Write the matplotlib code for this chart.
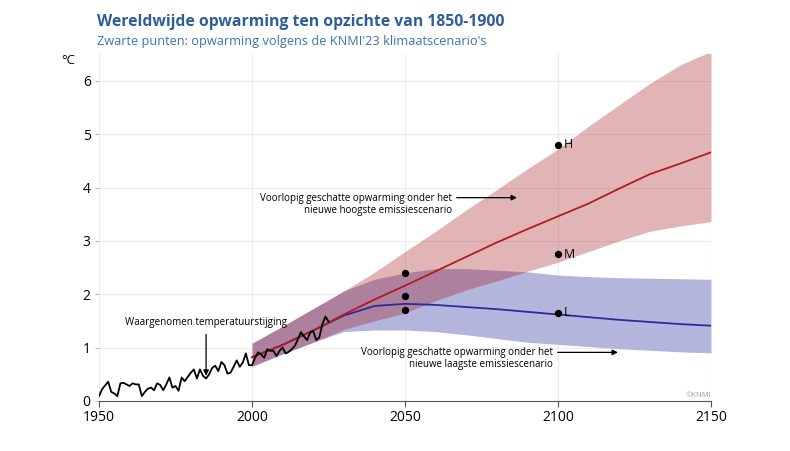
import matplotlib.pyplot as plt
import numpy as np

# observed global warming (deg C vs 1850-1900)
obs_years = np.arange(1950, 2026)
obs_temp = [0.09, 0.22, 0.29, 0.36, 0.17, 0.14, 0.09, 0.33, 0.34, 0.31,
            0.28, 0.33, 0.31, 0.31, 0.09, 0.17, 0.23, 0.25, 0.20, 0.33,
            0.30, 0.20, 0.31, 0.44, 0.25, 0.28, 0.19, 0.44, 0.37, 0.45,
            0.53, 0.59, 0.42, 0.59, 0.47, 0.42, 0.50, 0.62, 0.66, 0.56,
            0.73, 0.67, 0.51, 0.53, 0.64, 0.76, 0.64, 0.72, 0.89, 0.67,
            0.67, 0.81, 0.91, 0.87, 0.81, 0.97, 0.94, 0.94, 0.84, 0.94,
            1.00, 0.89, 0.92, 0.97, 1.03, 1.16, 1.29, 1.21, 1.14, 1.28,
            1.31, 1.14, 1.19, 1.44, 1.58, 1.49]

# scenario projections
proj_years = [2000, 2010, 2020, 2030, 2040, 2050, 2060, 2070, 2080, 2090,
              2100, 2110, 2120, 2130, 2140, 2150]
high_mid = [0.82, 1.05, 1.32, 1.62, 1.90, 2.16, 2.43, 2.70, 2.97, 3.22,
            3.46, 3.70, 3.98, 4.25, 4.45, 4.66]
high_up = [1.08, 1.40, 1.73, 2.06, 2.41, 2.80, 3.18, 3.58, 3.96, 4.35,
           4.72, 5.15, 5.55, 5.95, 6.30, 6.55]
high_lo = [0.65, 0.88, 1.10, 1.34, 1.50, 1.65, 1.88, 2.08, 2.25, 2.43,
           2.60, 2.80, 3.00, 3.18, 3.28, 3.36]
low_mid = [0.82, 1.05, 1.32, 1.60, 1.78, 1.82, 1.80, 1.76, 1.72, 1.67,
           1.62, 1.57, 1.52, 1.48, 1.44, 1.41]
low_up = [1.08, 1.40, 1.73, 2.06, 2.28, 2.40, 2.48, 2.48, 2.45, 2.42,
          2.36, 2.33, 2.31, 2.30, 2.29, 2.28]
low_lo = [0.65, 0.88, 1.10, 1.30, 1.33, 1.33, 1.30, 1.24, 1.17, 1.10,
          1.06, 1.02, 0.98, 0.95, 0.92, 0.90]

# KNMI'23 scenario points
dot_years = [2050, 2050, 2050, 2100, 2100, 2100]
dot_temp = [2.39, 1.96, 1.71, 4.80, 2.75, 1.65]
dot_labels = ['', '', '', 'H', 'M', 'L']

plt.rcParams['font.family'] = ['Open Sans', 'DejaVu Sans']

fig = plt.figure(figsize=(7.9, 4.51), dpi=100)
ax = fig.add_axes([0.1253, 0.111, 0.7747, 0.769])

# bands
ax.fill_between(proj_years, low_lo, low_up, color='#b4b5dc', lw=0, zorder=1)
ax.fill_between(proj_years, high_lo, high_up, color='#9e080f', alpha=0.3, lw=0, zorder=2)

ax.plot(proj_years, low_mid, color='#2a2a9e', lw=1.3, zorder=3)
ax.plot(proj_years, high_mid, color='#b31b1f', lw=1.3, zorder=4)
ax.plot(obs_years, obs_temp, color='black', lw=1.3, zorder=5)

ax.scatter(dot_years, dot_temp, s=18, color='black', zorder=6)
for x, y, lab in zip(dot_years, dot_temp, dot_labels):
    if lab:
        ax.text(x + 2, y, lab, fontsize=9, va='center', ha='left', zorder=6)

# annotations
ax.annotate('', xy=(1985, 0.42), xytext=(1985, 1.3),
            arrowprops=dict(arrowstyle='-|>', color='black', lw=0.9, mutation_scale=8))
ax.text(1985, 1.47, 'Waargenomen temperatuurstijging', fontsize=7.1,
        ha='center', va='center')

ax.annotate('', xy=(2087.5, 3.81), xytext=(2066, 3.81),
            arrowprops=dict(arrowstyle='-|>', color='black', lw=0.9, mutation_scale=8))
ax.text(2065.3, 3.68, 'Voorlopig geschatte opwarming onder het\nnieuwe hoogste emissiescenario',
        fontsize=7.0, ha='right', va='center', linespacing=1.2)

ax.annotate('', xy=(2120.5, 0.91), xytext=(2099, 0.91),
            arrowprops=dict(arrowstyle='-|>', color='black', lw=0.9, mutation_scale=8))
ax.text(2098.3, 0.80, 'Voorlopig geschatte opwarming onder het\nnieuwe laagste emissiescenario',
        fontsize=7.0, ha='right', va='center', linespacing=1.1)

ax.text(2150, 0.03, '©KNMI', fontsize=5.5, color='#a0a0a0', ha='right', va='bottom')

# axes styling
ax.set_xlim(1950, 2150)
ax.set_ylim(0, 6.5)
ax.set_xticks([1950, 2000, 2050, 2100, 2150])
ax.set_yticks([0, 1, 2, 3, 4, 5, 6])
ax.grid(True, color='#ececec', lw=0.8, zorder=0)
ax.set_axisbelow(True)
for s in ['top', 'right', 'left']:
    ax.spines[s].set_visible(False)
ax.spines['bottom'].set_color('#555555')
ax.spines['bottom'].set_zorder(7)
ax.tick_params(axis='x', length=4, color='#555555', labelsize=10, pad=2.5)
ax.tick_params(axis='y', length=3, color='#bbbbbb', labelsize=10, pad=3)

fig.text(0.086, 0.866, '°C', fontsize=9.5, ha='center', va='center')

fig.text(0.123, 1 - 14 / 451, 'Wereldwijde opwarming ten opzichte van 1850-1900',
         fontsize=11.3, fontweight='bold', color='#2e5e98', ha='left', va='top')
fig.text(0.123, 1 - 35 / 451, "Zwarte punten: opwarming volgens de KNMI'23 klimaatscenario's",
         fontsize=9.2, color='#3b74b0', ha='left', va='top')

plt.savefig('out.png', dpi=100)
